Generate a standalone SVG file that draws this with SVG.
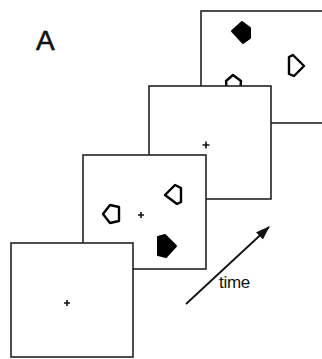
<svg xmlns="http://www.w3.org/2000/svg" width="322" height="359" viewBox="0 0 322 359">
<style>
.panel{fill:#fff;stroke:#222;stroke-width:1.6}
.cross{stroke:#111;stroke-width:1.6}
.out{fill:none;stroke:#000;stroke-width:2.4;stroke-linejoin:round}
.fill{fill:#000;stroke:#000;stroke-width:2;stroke-linejoin:round}
.lbl{font-family:"Liberation Sans",Arial,sans-serif;fill:#111}
</style>
<defs>
<marker id="ah2" viewBox="0 0 14 10" refX="13" refY="5" markerWidth="14" markerHeight="10" orient="auto" markerUnits="userSpaceOnUse">
<path d="M0,0 L14,5 L0,10 z" fill="#111"/>
</marker>
</defs>
<rect width="322" height="359" fill="#fff"/>
<text class="lbl" x="36" y="50" font-size="28" stroke="#111" stroke-width="0.6">A</text>
<g id="panel4">
<rect class="panel" x="201" y="11" width="123" height="112"/>
<path class="fill" d="M232,31 L242,22 L250,28 L250,38 L243,43 Z"/>
<path class="out" d="M289,57 L293,55 L304,66 L294,76 L289,74 Z"/>
<path class="out" d="M233,75 L241,81 L240,92 L227,92 L226,81 Z"/>
</g>
<g id="panel3">
<rect class="panel" x="149" y="86" width="122" height="113"/>
<path class="cross" d="M202.5,145 H209.5 M206,141.5 V148.5"/>
</g>
<g id="panel2">
<rect class="panel" x="83" y="155" width="123" height="114"/>
<path class="cross" d="M138,215 H144 M141,212 V218"/>
<path class="out" d="M103,214 L110,205 L119,207 L119,221 L110,223 Z"/>
<path class="out" d="M165,195 L175,185 L181,188 L181,202 L177,204 Z"/>
<path class="fill" d="M158,237 L165,235 L176,246 L166,257 L158,255 Z"/>
</g>
<g id="panel1">
<rect class="panel" x="11" y="243" width="122" height="114"/>
<path class="cross" d="M64,303 H70 M67,300 V306"/>
</g>
<g id="connectors">
<line x1="186" y1="304" x2="269" y2="227" stroke="#111" stroke-width="1.8" marker-end="url(#ah2)"/>
</g>
<text class="lbl" x="219" y="288" font-size="17" letter-spacing="-0.3">time</text>
</svg>
